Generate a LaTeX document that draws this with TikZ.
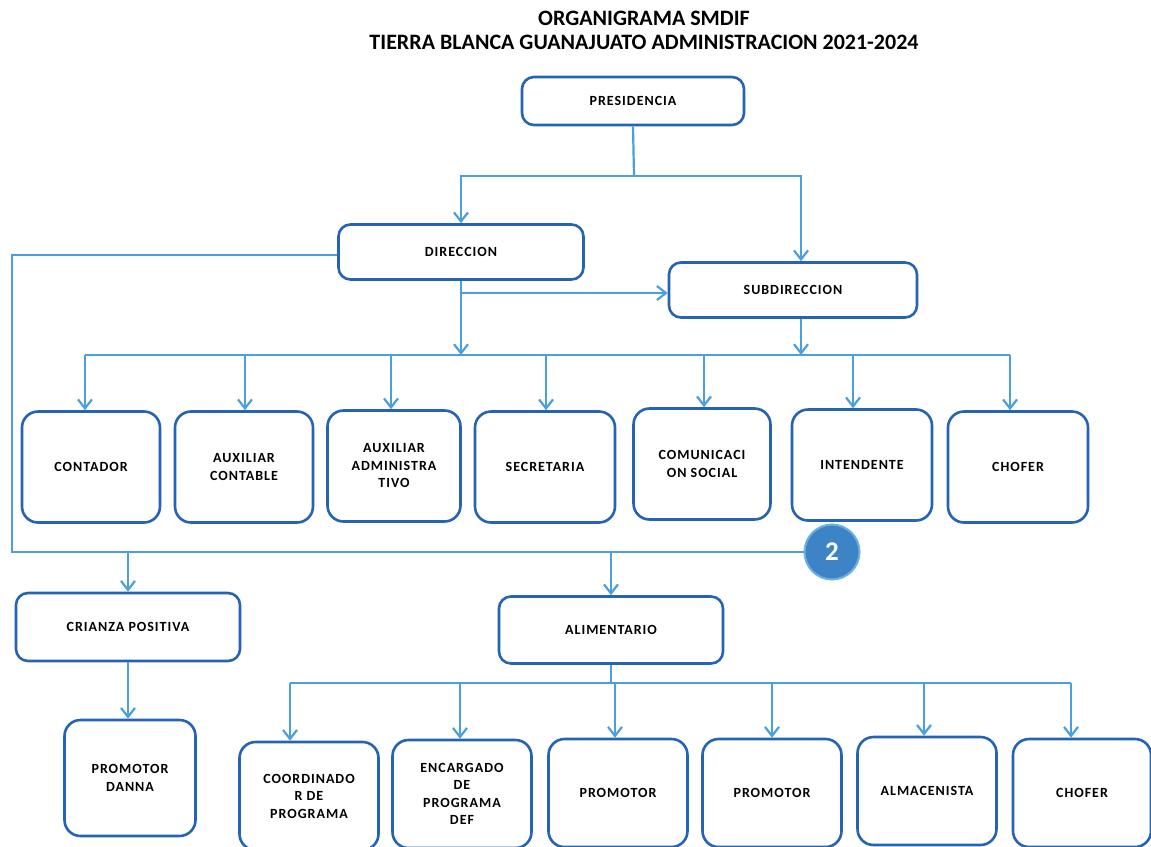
\documentclass[tikz,border=0pt]{standalone}
\usepackage{fontspec}
\setmainfont{Carlito}
\newfontfamily\boxfont[LetterSpace=7]{Carlito}
\usetikzlibrary{arrows.meta}
\definecolor{linec}{HTML}{4A9FDE}
\definecolor{boxc}{HTML}{2563B5}
\definecolor{circc}{HTML}{3C84C6}
\begin{document}
\begin{tikzpicture}[x=1pt,y=-1pt,
  box/.style={draw=boxc, line width=2.6pt, rounded corners=12pt, fill=white, align=center,
    font=\boxfont\bfseries\fontsize{14}{17.5}\selectfont, inner sep=2pt},
  rowbox/.style={box, rounded corners=16pt, minimum width=138, minimum height=111},
  botbox/.style={box, rounded corners=16pt, minimum width=139, minimum height=108},
  conn/.style={draw=linec, line width=2.2pt},
  arr/.style={conn, -{Straight Barb[length=9pt,width=14pt,line width=2.2pt]}},
  ttl/.style={font=\bfseries\fontsize{22}{22}\selectfont}
]
\useasboundingbox[fill=white] (0,0) rectangle (1151,846);

% title
\node[ttl] (t1) at (644,18) {ORGANIGRAMA SMDIF};
\node[ttl] (t2) at (644,42) {TIERRA BLANCA GUANAJUATO ADMINISTRACION 2021-2024};

% top boxes
\node[box, minimum width=222, minimum height=48] (pres) at (633,101) {PRESIDENCIA};
\node[box, minimum width=245, minimum height=55] (dir) at (461,252) {DIRECCION};
\node[box, minimum width=248, minimum height=55] (sub) at (793,290) {SUBDIRECCION};

% row 1
\node[rowbox] (contador) at (91,467) {CONTADOR};
\node[rowbox] (auxcont) at (244,467) {AUXILIAR\\CONTABLE};
\node[rowbox, minimum width=133] (auxadm) at (394,466) {AUXILIAR\\ADMINISTRA\\TIVO};
\node[rowbox, minimum width=140] (secre) at (545,467) {SECRETARIA};
\node[rowbox, minimum width=137] (comun) at (702,464) {COMUNICACI\\ON SOCIAL};
\node[rowbox, minimum width=140] (inten) at (862,465) {INTENDENTE};
\node[rowbox, minimum width=140] (chofer1) at (1018,467) {CHOFER};

% circle
\node[circle, fill=circc, draw=linec!80, line width=2pt, minimum size=55, inner sep=0pt,
  text=white, font=\bfseries\fontsize{27}{27}\selectfont] (two) at (832,552) {2};

% lower section
\node[box, minimum width=224, minimum height=68] (crianza) at (128,627) {CRIANZA POSITIVA};
\node[box, minimum width=224, minimum height=67] (alim) at (611,630) {ALIMENTARIO};
\node[box, rounded corners=16pt, minimum width=131, minimum height=116] (danna) at (130,778) {PROMOTOR\\DANNA};

% row 2
\node[botbox] (coord) at (309,796) {COORDINADO\\R DE\\PROGRAMA};
\node[botbox] (encarg) at (462,794) {ENCARGADO\\DE\\PROGRAMA\\DEF};
\node[botbox] (prom1) at (618,793) {PROMOTOR};
\node[botbox] (prom2) at (772,793) {PROMOTOR};
\node[botbox] (almac) at (927,791) {ALMACENISTA};
\node[botbox, minimum width=138] (chofer2) at (1082,793) {CHOFER};

% connectors: presidencia
\coordinate (pj) at (634,176);
\draw[conn] (pres.south) -- (pj);
\draw[arr] (pj) -| (dir.north);
\draw[arr] (pj) -| ([xshift=8]sub.north);

% direccion / subdireccion
\coordinate (bus1) at (85,355);
\coordinate (bus1r) at (1010,355);
\draw[arr] (dir.south) -- (dir.south |- bus1);
\draw[arr] (dir.south |- 0,293) -- (sub.west |- 0,293);
\draw[arr] ([xshift=8]sub.south) -- ([xshift=8]sub.south |- bus1);
\draw[conn] (bus1) -- (bus1r);
\foreach \xx/\nn in {85/contador,245/auxcont,391/auxadm,546/secre,704/comun,853/inten,1010/chofer1}{
  \draw[arr] (\xx,355) -- (\xx,355 |- \nn.north);
}

% left loop
\coordinate (lc1) at (12,255);
\coordinate (lc2) at (12,552);
\draw[conn] (dir.west |- lc1) -- (lc1) -- (lc2) -- (two.west);
\draw[arr] (crianza.north |- lc2) -- (crianza.north);
\draw[arr] (alim.north |- lc2) -- (alim.north);
\draw[arr] (crianza.south) -- (danna.north -| crianza.south);

% alimentario bus
\coordinate (bus2) at (290,683);
\coordinate (bus2r) at (1071,683);
\draw[conn] (alim.south) -- (alim.south |- bus2);
\draw[conn] (bus2) -- (bus2r);
\foreach \xx/\nn in {290/coord,460/encarg,615/prom1,772/prom2,924/almac,1071/chofer2}{
  \draw[arr] (\xx,683) -- (\xx,683 |- \nn.north);
}
\end{tikzpicture}
\end{document}
